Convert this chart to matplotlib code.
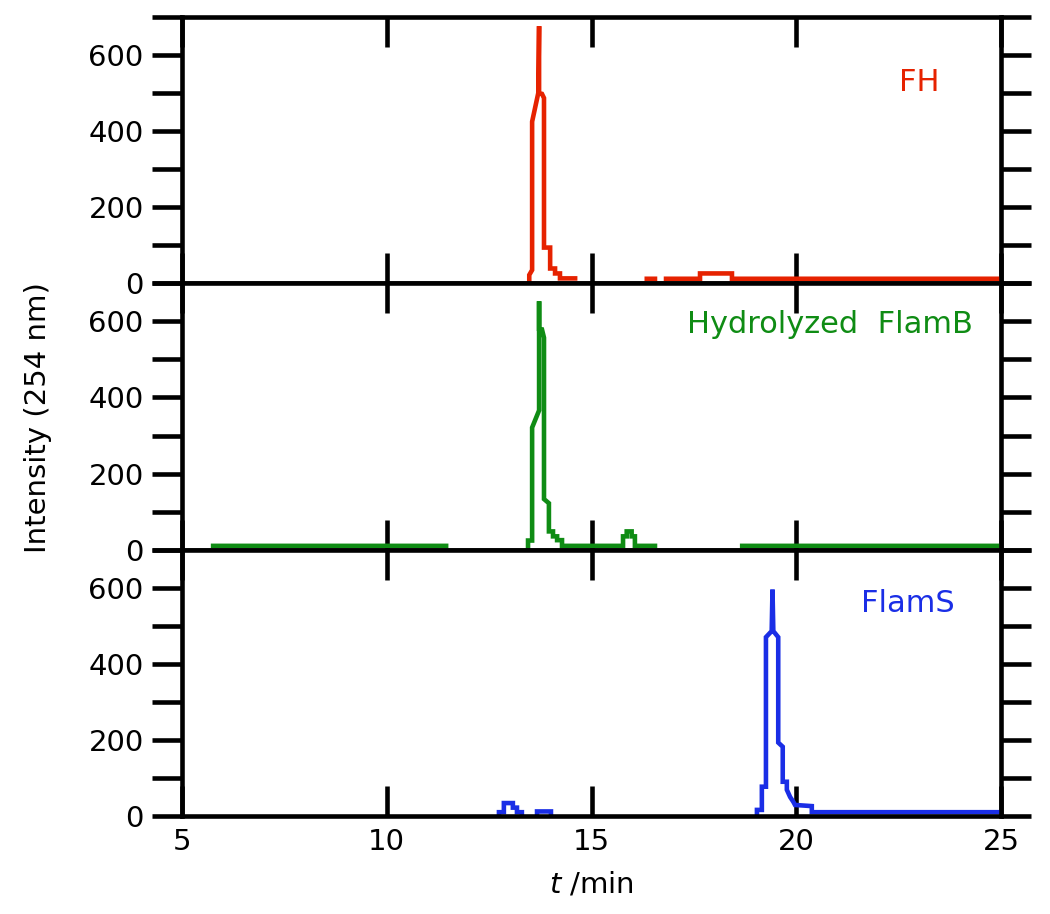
import numpy as np
import matplotlib.pyplot as plt
from matplotlib.ticker import MultipleLocator

plt.rcParams['font.family'] = ['DejaVu Sans']
plt.rcParams['mathtext.fontset'] = 'dejavusans'

nan = np.nan

# FH trace (t / min, intensity)
fh_t = [13.48, 13.48, 13.55, 13.55, 13.70, 13.72, 13.72, 13.79, 13.84, 13.84,
        13.99, 13.99, 14.11, 14.11, 14.23, 14.23, 14.60, nan,
        16.35, 16.55, nan,
        16.82, 17.65, 17.65, 18.43, 18.43, 25.0]
fh_i = [0, 22, 35, 425, 500, 676, 500, 498, 487, 94,
        94, 39, 39, 26, 26, 13, 13, nan,
        12, 12, nan,
        12, 12, 26, 26, 12, 12]

# Hydrolyzed FlamB trace
hf_t = [5.76, 11.45, nan,
        13.45, 13.45, 13.55, 13.55, 13.72, 13.72, 13.72, 13.79, 13.84, 13.84,
        13.96, 13.96, 14.06, 14.06, 14.16, 14.16, 14.28, 14.28, 15.77, 15.77, 15.86, 15.86,
        15.98, 15.98, 16.06, 16.06, 16.55, nan,
        18.68, 25.0]
hf_i = [10, 10, nan,
        0, 24, 24, 321, 366, 653, 580, 579, 557, 133,
        122, 48, 48, 35, 35, 25, 25, 10, 10, 35, 35, 48,
        48, 35, 35, 10, 10, nan,
        10, 10]

# FlamS trace
fs_t = [12.74, 12.74, 12.86, 12.86, 13.08, 13.08, 13.18, 13.18, 13.30, 13.30, nan,
        13.67, 13.67, 14.01, 14.01, nan,
        19.04, 19.04, 19.16, 19.16, 19.26, 19.26, 19.40, 19.42, 19.44, 19.56,
        19.56, 19.67, 19.67, 19.77, 19.77, 19.85, 19.93, 19.97, 20.38, 20.38, 25.0]
fs_i = [0, 10, 10, 34, 34, 22, 22, 10, 10, 0, nan,
        0, 12, 12, 0, nan,
        0, 16, 16, 77, 77, 470, 486, 595, 486, 470,
        193, 182, 90, 90, 69, 50, 37, 29, 26, 10, 10]

traces = [(fh_t, fh_i, '#e62200', 'FH', 23.5, 527),
          (hf_t, hf_i, '#0f8c14', 'Hydrolyzed  FlamB', 24.32, 592),
          (fs_t, fs_i, '#1a2ee6', 'FlamS', 23.88, 558)]

fig = plt.figure(figsize=(10.5, 9.14), dpi=100)
left, right = 182 / 1050, 1001 / 1050
top, bottom = 1 - 17 / 914, 1 - 816 / 914
h = (top - bottom) / 3

lw = 3.3
fs = 21
for k, (t, y, col, name, lx, ly) in enumerate(traces):
    ax = fig.add_axes([left, top - (k + 1) * h, right - left, h])
    ax.plot(t, y, color=col, lw=lw, solid_joinstyle='miter')
    ax.set_xlim(5, 25)
    ax.set_ylim(0, 700)
    ax.xaxis.set_major_locator(MultipleLocator(5))
    ax.yaxis.set_major_locator(MultipleLocator(200))
    ax.yaxis.set_minor_locator(MultipleLocator(100))
    ax.tick_params(axis='x', direction='in', top=True, bottom=True,
                   length=21.6, width=lw, labelsize=fs, pad=9,
                   labelbottom=(k == 2))
    ax.tick_params(axis='y', which='both', direction='out', left=True, right=True,
                   length=21.6, width=lw, labelsize=fs, pad=6)
    ax.set_yticks([0, 200, 400, 600])
    for s in ax.spines.values():
        s.set_linewidth(lw)
    ax.text(lx, ly, name, color=col, fontsize=22, ha='right', va='center')
    if k == 2:
        ax.set_xlabel(r'$\mathit{t}$ /min', fontsize=fs, labelpad=10)

fig.text(38 / 1050, 1 - 418 / 914, 'Intensity (254 nm)', rotation=90,
         fontsize=fs, ha='center', va='center')

plt.savefig('out.png', dpi=100)
